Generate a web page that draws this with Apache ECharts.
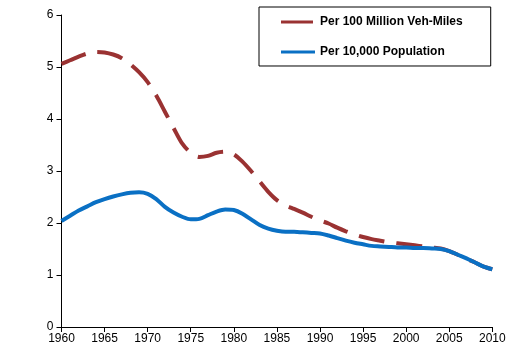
<!DOCTYPE html>
<html><head><meta charset="utf-8">
<script src="https://cdn.jsdelivr.net/npm/echarts@6/dist/echarts.min.js"></script>
<style>html,body{margin:0;padding:0;background:#fff}#c{width:532px;height:362px}</style>
</head><body><div id="c"></div>
<script>
var years = [1960,1961,1962,1963,1964,1965,1966,1967,1968,1969,1970,1971,1972,1973,1974,1975,1976,1977,1978,1979,
             1980,1981,1982,1983,1984,1985,1986,1987,1988,1989,1990,1991,1992,1993,1994,1995,1996,1997,1998,1999,
             2000,2001,2002,2003,2004,2005,2006,2007,2008,2009,2010];
var perVehMiles = [5.06,5.13,5.20,5.26,5.29,5.28,5.24,5.17,5.05,4.90,4.71,4.45,4.14,3.83,3.53,3.35,3.27,3.29,3.35,3.37,
                   3.32,3.18,3.00,2.80,2.60,2.44,2.34,2.27,2.20,2.12,2.05,1.99,1.91,1.84,1.78,1.73,1.69,1.66,1.63,1.61,
                   1.59,1.57,1.55,1.53,1.51,1.46,1.39,1.31,1.24,1.16,1.11];
var perPopulation = [2.04,2.14,2.24,2.32,2.40,2.46,2.51,2.55,2.58,2.59,2.56,2.46,2.31,2.20,2.12,2.07,2.08,2.15,2.22,2.26,
                     2.25,2.18,2.07,1.96,1.89,1.85,1.83,1.83,1.82,1.81,1.80,1.76,1.71,1.66,1.62,1.59,1.56,1.55,1.54,1.53,
                     1.53,1.52,1.52,1.51,1.50,1.46,1.39,1.32,1.24,1.16,1.11];
var seriesNames = ['Per 100 Million Veh-Miles', 'Per 10,000 Population'];

function pairs(v){ return years.map(function(y,i){ return [y, v[i]]; }); }
var chart = echarts.init(document.getElementById('c'), null, {renderer:'canvas'});
var font = 'Liberation Sans, Arial, sans-serif';
var redIcon = 'path://M0,0L0.01,0L0.01,0Z M0,5.5L32,5.5L32,8.5L0,8.5Z M34,14L34.01,14L34.01,14Z';
var blueIcon = 'path://M0,0L0.01,0L0.01,0Z M0,5.5L34,5.5L34,8.5L0,8.5Z M34,14L34.01,14L34.01,14Z';
chart.setOption({
  animation:false,
  backgroundColor:'#fff',
  grid:{left:61.5, right:39.7, top:15, bottom:35, containLabel:false},
  legend:{
    orient:'vertical', left:259, top:7,
    padding:[8,28,7,22], itemGap:16, itemWidth:34, itemHeight:14,
    borderColor:'#000', borderWidth:1, borderRadius:0,
    textStyle:{fontFamily:font, fontSize:12, fontWeight:'bold', color:'#000'},
    data:[{name:seriesNames[0], icon:redIcon},{name:seriesNames[1], icon:blueIcon}]
  },
  xAxis:{type:'value', min:1960, max:2010, interval:5,
    axisLine:{lineStyle:{color:'#000', width:1}},
    axisTick:{show:true, length:5, lineStyle:{color:'#000'}},
    axisLabel:{fontFamily:font, fontSize:12, color:'#000', margin:6, formatter:function(v){return String(v);}},
    splitLine:{show:false}},
  yAxis:{type:'value', min:0, max:6, interval:1,
    axisLine:{show:true, lineStyle:{color:'#000', width:1}},
    axisTick:{show:true, length:5, lineStyle:{color:'#000'}},
    axisLabel:{fontFamily:font, fontSize:12, color:'#000', margin:8},
    splitLine:{show:false}},
  series:[
    {name:seriesNames[0], type:'line', data:pairs(perVehMiles), smooth:0.3, showSymbol:false, symbol:'none',
     lineStyle:{color:'#9A3232', width:4, type:[26,12]}, itemStyle:{color:'#9A3232'}, z:2},
    {name:seriesNames[1], type:'line', data:pairs(perPopulation), smooth:0.3, showSymbol:false, symbol:'none',
     lineStyle:{color:'#0A70C4', width:4}, itemStyle:{color:'#0A70C4'}, z:3}
  ]
});
</script></body></html>
